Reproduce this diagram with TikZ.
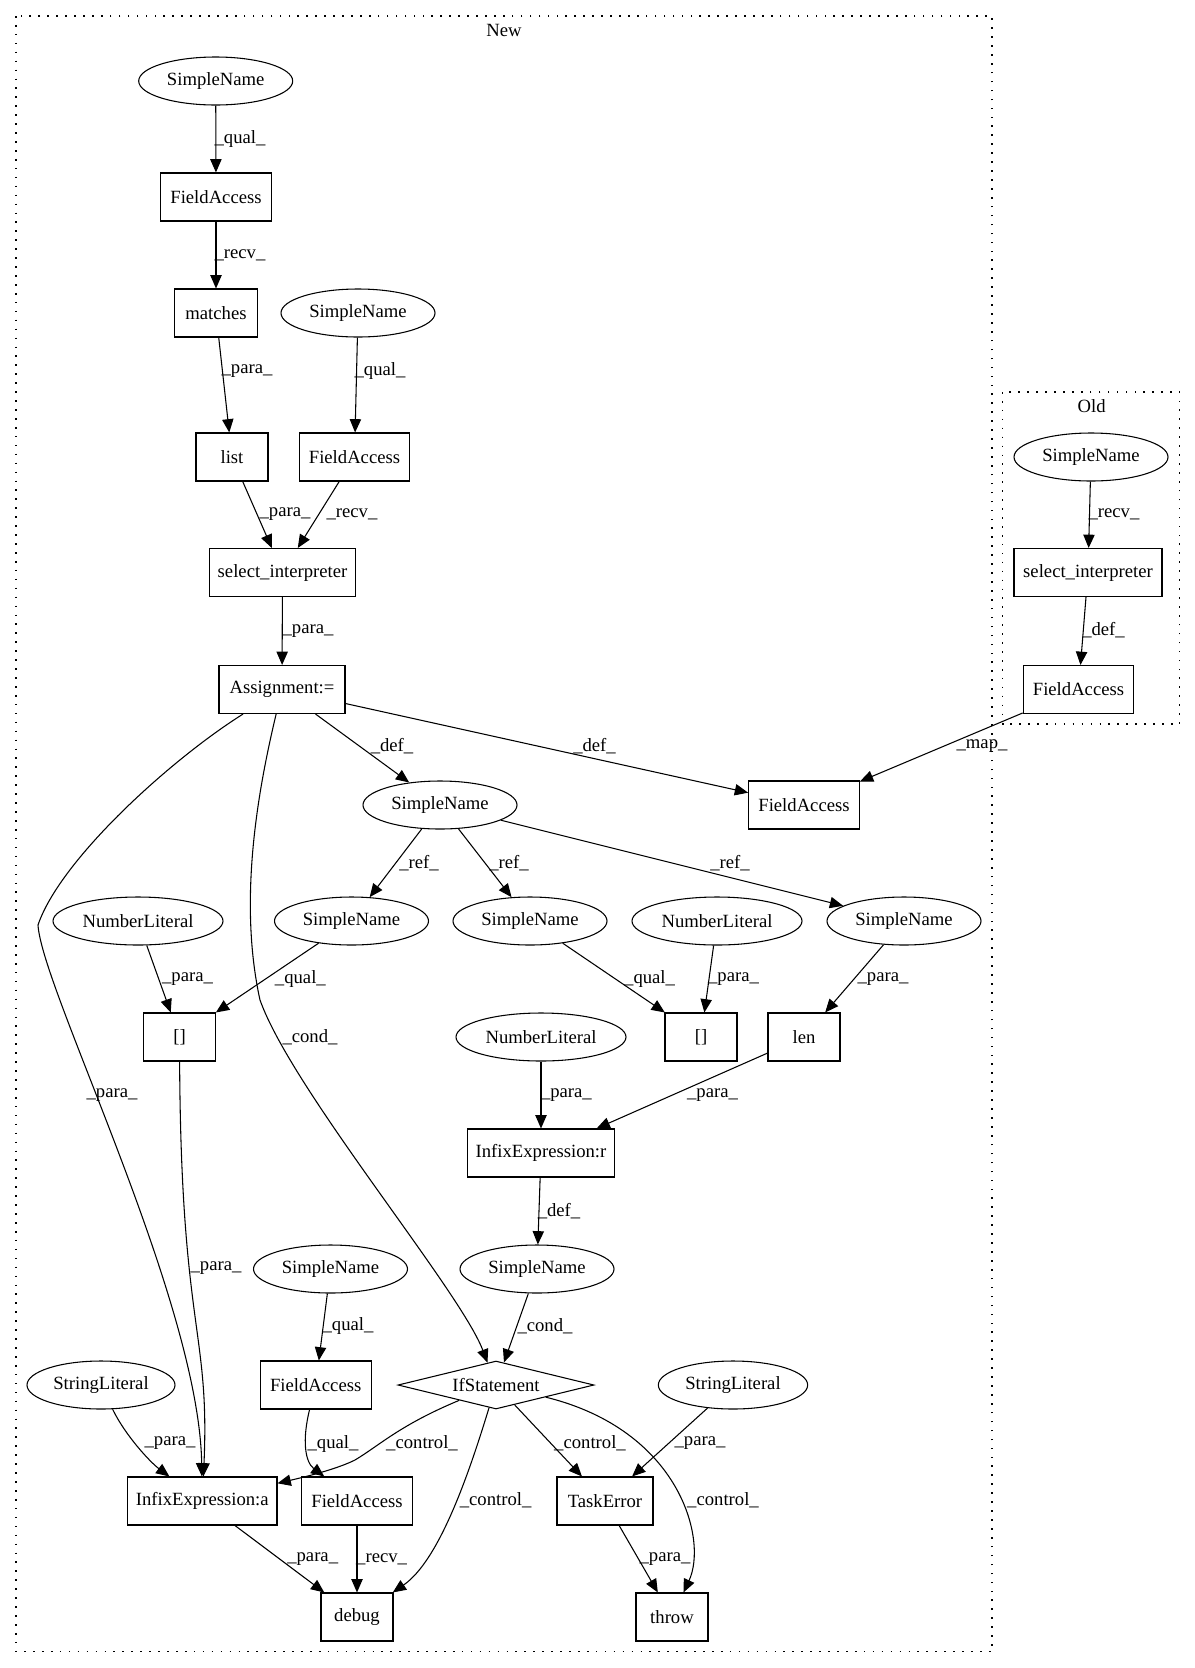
\documentclass[tikz,border=0pt]{standalone}
\usepackage{fontspec}
\setmainfont{Liberation Serif}
\usetikzlibrary{arrows.meta,shapes.geometric}
\tikzset{
  base/.style={font=\fontsize{14pt}{16pt}\selectfont, line width=0.8pt, inner sep=0pt},
  box/.style={base, draw, rectangle, minimum height=36pt},
  ell/.style={base, draw, ellipse, minimum height=36pt, minimum width=115.5pt},
  dia/.style={base, draw, diamond, aspect=4, minimum width=147pt, minimum height=36pt},
  lbl/.style={font=\fontsize{14pt}{16pt}\selectfont, inner sep=0pt},
  edge/.style={-{Triangle[length=10pt,width=8.5pt]}, line width=0.8pt},
  cluster/.style={line width=1pt, dash pattern=on 1.2pt off 5.5pt}
}
\begin{document}
\begin{tikzpicture}[x=0.75pt,y=-0.75pt]
\path[fill=white] (0,0) rectangle (1195,1668);
\useasboundingbox (0,0) rectangle (1195,1668);
% clusters
\draw[cluster] (16,16) rectangle (992,1651.6);
\node[lbl] (newlbl) at (504,30) {New};
\draw[cluster] (1002.7,392) rectangle (1179.6,724);
\node[lbl] (oldlbl) at (1091.6,406) {Old};
% nodes
\node[ell] (sn1) at (215.7,81) {SimpleName};
\node[box, minimum width=83pt] (fa1) at (216,197) {FieldAccess};
\node[box, minimum width=62pt] (mat) at (216,313) {matches};
\node[ell] (sn2) at (358,313) {SimpleName};
\node[box, minimum width=54pt] (lst) at (232,457) {list};
\node[box, minimum width=83pt] (fa2) at (354.5,457) {FieldAccess};
\node[box, minimum width=110pt] (sel) at (282.5,572.5) {select\_interpreter};
\node[box, minimum width=94.5pt] (asg) at (282,689.5) {Assignment:=};
\node[ell] (sn3) at (440,805) {SimpleName};
\node[box, minimum width=83pt] (fa5) at (804,805) {FieldAccess};
\node[ell, minimum width=127.5pt] (nl1) at (138,921) {NumberLiteral};
\node[ell] (sn4) at (351.5,921) {SimpleName};
\node[ell] (sn5) at (530,921) {SimpleName};
\node[ell, minimum width=127.5pt] (nl2) at (717,921) {NumberLiteral};
\node[ell] (sn6) at (904,921) {SimpleName};
\node[box, minimum width=54pt] (br1) at (179.5,1037) {[]};
\node[ell, minimum width=127.5pt] (nl3) at (541,1037) {NumberLiteral};
\node[box, minimum width=54pt] (br2) at (701,1037) {[]};
\node[box, minimum width=54pt] (len) at (804,1037) {len};
\node[box, minimum width=110pt] (infr) at (541,1153) {InfixExpression:r};
\node[ell] (sn8) at (330.5,1269) {SimpleName};
\node[ell] (sn7) at (537,1269) {SimpleName};
\node[ell, minimum width=111pt] (sl1) at (101,1385) {StringLiteral};
\node[box, minimum width=83pt] (fa3) at (315.7,1385) {FieldAccess};
\node[dia] (ifs) at (496,1385) {IfStatement};
\node[ell, minimum width=112pt] (sl2) at (733,1385) {StringLiteral};
\node[box, minimum width=112pt] (infa) at (202.3,1501) {InfixExpression:a};
\node[box, minimum width=83pt] (fa4) at (357,1501) {FieldAccess};
\node[box, minimum width=72pt] (te) at (605,1501) {TaskError};
\node[box, minimum width=54pt] (dbg) at (357,1617) {debug};
\node[box, minimum width=54pt] (thr) at (672,1617) {throw};
\node[ell] (osn) at (1091,457) {SimpleName};
\node[box, minimum width=111pt] (osel) at (1088,572.5) {select\_interpreter};
\node[box, minimum width=83pt] (ofa) at (1078.5,689.5) {FieldAccess};
% edges
\draw[edge] (sn1) -- (fa1);
\draw[edge] (fa1) -- (mat);
\draw[edge] (mat) -- (lst);
\draw[edge] (sn2) -- (fa2);
\draw[edge] (lst) -- (sel);
\draw[edge] (fa2) -- (sel);
\draw[edge] (sel) -- (asg);
\draw[edge] (asg) -- (sn3);
\draw[edge] (asg) -- (fa5);
\draw[edge] (ofa) -- (fa5);
\draw[edge] (osn) -- (osel);
\draw[edge] (osel) -- (ofa);
\draw[edge] (sn3) -- (sn4);
\draw[edge] (sn3) -- (sn5);
\draw[edge] (sn3) -- (sn6);
\draw[edge] (nl1) -- (br1);
\draw[edge] (sn4) -- (br1);
\draw[edge] (sn5) -- (br2);
\draw[edge] (nl2) -- (br2);
\draw[edge] (sn6) -- (len);
\draw[edge] (nl3) -- (infr);
\draw[edge] (len) -- (infr);
\draw[edge] (infr) -- (sn7);
\draw[edge] (sn7) -- (ifs);
\draw[edge] (sn8) -- (fa3);
\draw[edge] (asg) .. controls (258,790) and (238,900) .. (260,1000) .. controls (292,1090) and (460,1290) .. (ifs);
\draw[edge] (asg) .. controls (170,760) and (60,860) .. (38,925) .. controls (42,990) and (199,1300) .. (infa);
\draw[edge] (br1) .. controls (181,1330) and (210,1330) .. (infa);
\draw[edge] (sl1) .. controls (125,1435) and (150,1462) .. (infa);
\draw[edge] (fa3) .. controls (302,1440) and (305,1462) .. (fa4);
\draw[edge] (ifs) .. controls (400,1425) and (380,1445) .. (355,1460) .. controls (335,1470) and (300,1478) .. (infa);
\draw[edge] (ifs) .. controls (470,1470) and (440,1560) .. (dbg);
\draw[edge] (ifs) -- (te);
\draw[edge] (sl2) -- (te);
\draw[edge] (ifs) .. controls (680,1430) and (708,1540) .. (thr);
\draw[edge] (infa) -- (dbg);
\draw[edge] (fa4) -- (dbg);
\draw[edge] (te) -- (thr);
% labels
\node[lbl] (l1) at (240,138.6) {\_qual\_};
\node[lbl] (l2) at (240,255) {\_recv\_};
\node[lbl] (l3) at (247,371) {\_para\_};
\node[lbl] (l4) at (380,371) {\_qual\_};
\node[lbl] (l5) at (285,514) {\_para\_};
\node[lbl] (l6) at (352,514) {\_recv\_};
\node[lbl] (l7) at (308,631) {\_para\_};
\node[lbl] (l8) at (392,746) {\_def\_};
\node[lbl] (l9) at (594.5,746) {\_def\_};
\node[lbl] (l10) at (982,746) {\_map\_};
\node[lbl] (l11) at (419,863) {\_ref\_};
\node[lbl] (l12) at (509,863) {\_ref\_};
\node[lbl] (l13) at (730,863) {\_ref\_};
\node[lbl] (l14) at (187.5,978.6) {\_para\_};
\node[lbl] (l15) at (300.4,978.6) {\_qual\_};
\node[lbl] (l16) at (649.6,979) {\_qual\_};
\node[lbl] (l17) at (733.5,979) {\_para\_};
\node[lbl] (l18) at (883,979) {\_para\_};
\node[lbl] (l19) at (310,1036.8) {\_cond\_};
\node[lbl] (l20) at (112,1094.6) {\_para\_};
\node[lbl] (l21) at (566.4,1094.6) {\_para\_};
\node[lbl] (l22) at (712.5,1094.6) {\_para\_};
\node[lbl] (l23) at (559,1210.7) {\_def\_};
\node[lbl] (l24) at (216,1268.4) {\_para\_};
\node[lbl] (l25) at (348,1326) {\_qual\_};
\node[lbl] (l26) at (545,1326) {\_cond\_};
\node[lbl] (l27) at (170,1443.5) {\_para\_};
\node[lbl] (l28) at (333,1443.5) {\_qual\_};
\node[lbl] (l29) at (422,1443.5) {\_control\_};
\node[lbl] (l30) at (590,1443.5) {\_control\_};
\node[lbl] (l31) at (700,1443.5) {\_para\_};
\node[lbl] (l32) at (495.6,1500.4) {\_control\_};
\node[lbl] (l33) at (723,1500.4) {\_control\_};
\node[lbl] (l34) at (312.7,1559) {\_para\_};
\node[lbl] (l35) at (381.6,1559) {\_recv\_};
\node[lbl] (l36) at (665,1559) {\_para\_};
\node[lbl] (l37) at (1114,514) {\_recv\_};
\node[lbl] (l38) at (1103.5,630) {\_def\_};
\end{tikzpicture}
\end{document}
